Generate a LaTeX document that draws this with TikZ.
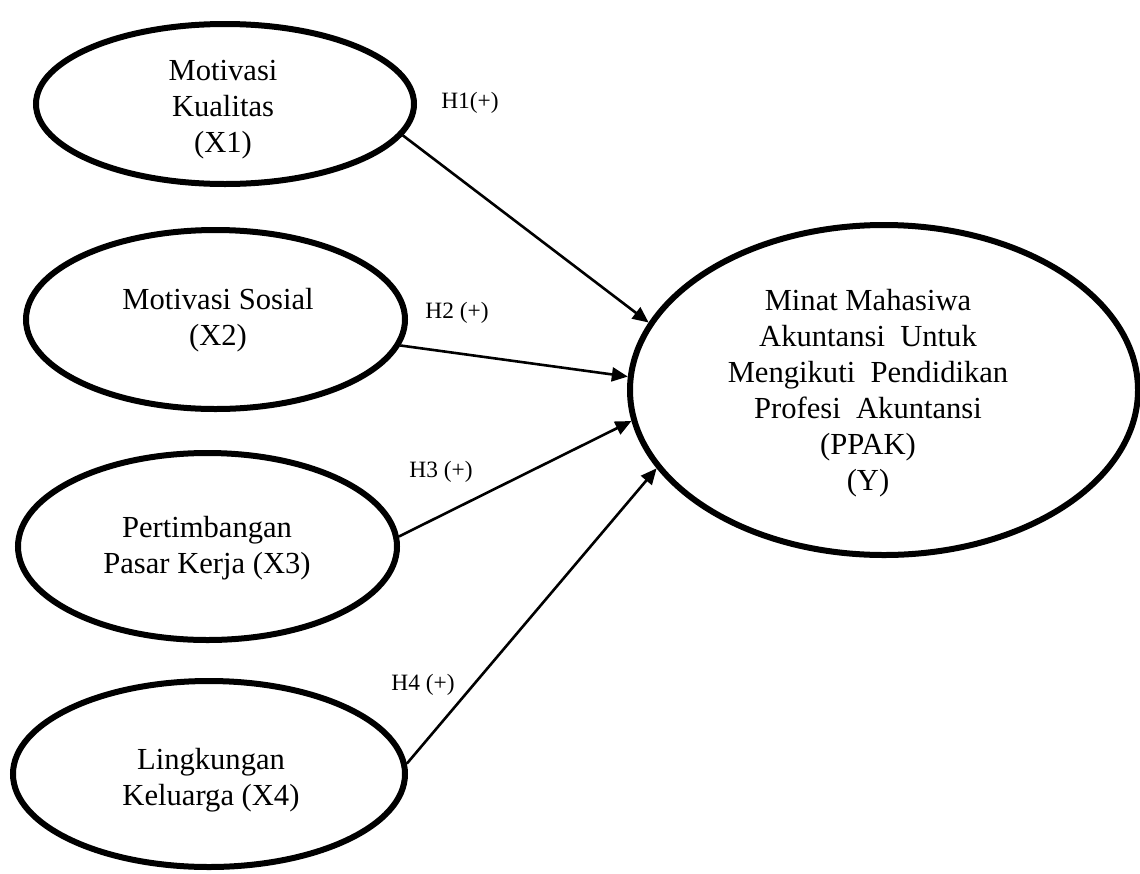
\documentclass[tikz,border=0pt]{standalone}
\usepackage{fontspec}
\setmainfont{Liberation Serif}
\usetikzlibrary{shapes.geometric,arrows.meta}
\begin{document}
\begin{tikzpicture}[x=0.5pt,y=-0.5pt,
  var/.style={ellipse,draw,line width=3pt,inner sep=0pt},
  txt/.style={align=center,font=\fontsize{15.3}{18}\selectfont,inner sep=0pt},
  hyp/.style={font=\fontsize{11.7}{14}\selectfont,inner sep=0pt},
  arr/.style={line width=1.3pt,-{Triangle[length=8pt,width=7pt]}}]
\useasboundingbox (0,0) rectangle (1140,873);
% ellipses
\node[var,minimum width=189pt,minimum height=80pt] (x1) at (225,104) {};
\node[var,minimum width=189.5pt,minimum height=89.5pt] (x2) at (215.5,319.5) {};
\node[var,minimum width=189.5pt,minimum height=93.5pt] (x3) at (207.5,546.5) {};
\node[var,minimum width=196pt,minimum height=93pt] (x4) at (209,774) {};
\node[var,minimum width=254pt,minimum height=165pt] (y) at (884,390) {};
% texts
\node[txt] (x1t) at (223,110) {Motivasi\\Kualitas\\(X1)};
\node[txt] (x2t) at (218,320) {Motivasi Sosial\\(X2)};
\node[txt] (x3t) at (207,548) {Pertimbangan\\Pasar Kerja (X3)};
\node[txt] (x4t) at (211,780) {Lingkungan\\Keluarga (X4)};
\node[txt] (yt) at (868,393) {Minat Mahasiwa\\Akuntansi\hspace{0.5em}Untuk\\Mengikuti\hspace{0.5em}Pendidikan\\Profesi\hspace{0.5em}Akuntansi\\(PPAK)\\(Y)};
% hypothesis labels
\node[hyp] (h1) at (470,103) {H1(+)};
\node[hyp] (h2) at (457,313) {H2 (+)};
\node[hyp] (h3) at (441,472) {H3 (+)};
\node[hyp] (h4) at (423,685) {H4 (+)};
% arrows
\draw[arr] (x1.-10) -- (y.164);
\draw[arr] (x2.-8) -- (y.177);
\draw[arr] (x3.3) -- (y.187);
\draw[arr] (x4.3) -- (y.199);
\end{tikzpicture}
\end{document}
